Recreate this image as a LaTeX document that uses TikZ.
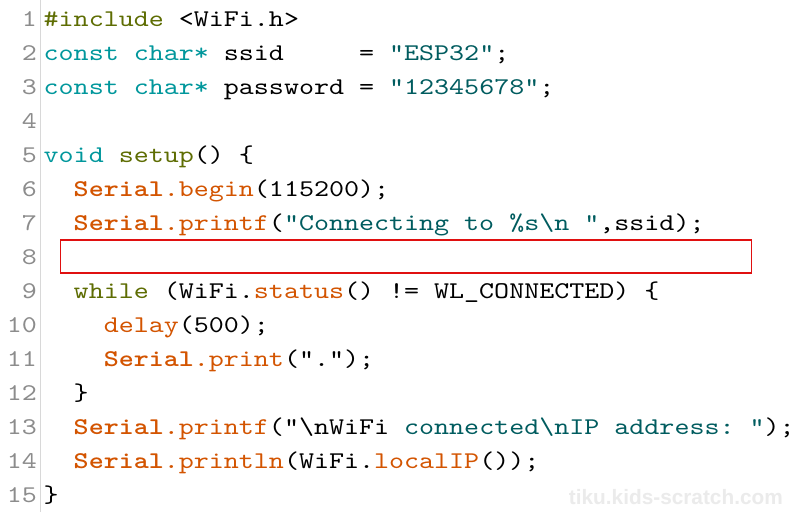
\documentclass[tikz,border=0pt]{standalone}
\usepackage{fontspec}
\newfontfamily\codefont{lmmono10-regular.otf}[BoldFont=lmmonolt10-bold.otf, FakeStretch=1.192]
\newfontfamily\wmfont{Liberation Sans}
\definecolor{cPre}{HTML}{5E6D03}
\definecolor{cType}{HTML}{00979C}
\definecolor{cFun}{HTML}{D35400}
\definecolor{cStr}{HTML}{005C5F}
\definecolor{cNum}{HTML}{8C8C8C}
\definecolor{cSep}{HTML}{D8D8D8}
\definecolor{cBox}{HTML}{E01010}
\definecolor{cWm}{HTML}{EBEBEB}
\newcommand\pre[1]{\textcolor{cPre}{#1}}
\newcommand\typ[1]{\textcolor{cType}{#1}}
\newcommand\fun[1]{\textcolor{cFun}{#1}}
\newcommand\str[1]{\textcolor{cStr}{#1}}
\newcommand\ser{\textcolor{cFun}{\textbf{Serial}.}}
\tikzset{
  codeline/.style={anchor=base west, inner sep=0pt, font=\codefont\fontsize{24}{34}\selectfont},
  numline/.style={anchor=base east, inner sep=0pt, text=cNum, font=\codefont\fontsize{24}{34}\selectfont},
  markbox/.style={draw=cBox, line width=1.4pt},
  watermark/.style={anchor=base east, inner sep=0pt, text=cWm, font=\wmfont\bfseries\fontsize{20.8}{24}\selectfont}
}
\begin{document}
\begin{tikzpicture}[x=1pt,y=1pt]
\useasboundingbox (0,0) rectangle (808,-512);
\fill[white] (0,0) rectangle (808,-512);
\draw[cSep, line width=1.2pt] (40.5,0) -- (40.5,-512);
% line numbers
\foreach \i in {1,...,15}{
  \node[numline] (n\i) at (37,{-26.7-34*(\i-1)}) {\i};
}
\def\xo{43.5}
\node[codeline] (l1) at (\xo,-26.7) {\pre{\#include}\ <WiFi.h>};
\node[codeline] (l2) at (\xo,-60.7) {\typ{const\ char*}\ ssid\ \ \ \ \ =\ \str{"ESP32"};};
\node[codeline] (l3) at (\xo,-94.7) {\typ{const\ char*}\ password\ =\ \str{"12345678"};};
\node[codeline] (l5) at (\xo,-162.7) {\typ{void}\ \pre{setup}()\ \{};
\node[codeline] (l6) at (\xo,-196.7) {\ \ \ser\fun{begin}(115200);};
\node[codeline] (l7) at (\xo,-230.7) {\ \ \ser\fun{printf}(\str{"Connecting\ to\ \%s\textbackslash n\ "},ssid);};
\node[codeline] (l9) at (\xo,-298.7) {\ \ \pre{while}\ (WiFi.\fun{status}()\ !=\ WL\_CONNECTED)\ \{};
\node[codeline] (l10) at (\xo,-332.7) {\ \ \ \ \fun{delay}(500);};
\node[codeline] (l11) at (\xo,-366.7) {\ \ \ \ \ser\fun{print}(".");};
\node[codeline] (l12) at (\xo,-400.7) {\ \ \}};
\node[codeline] (l13) at (\xo,-434.7) {\ \ \ser\fun{printf}("\textbackslash nWiFi\ \str{connected\textbackslash nIP\ address:\ "});};
\node[codeline] (l14) at (\xo,-468.7) {\ \ \ser\fun{println}(WiFi.\fun{localIP}());};
\node[codeline] (l15) at (\xo,-502.7) {\}};
% highlight box on line 8
\draw[markbox] (60.3,-240) rectangle (751.7,-273);
% watermark
\node[watermark] (wm) at (783,-504) {tiku.kids-scratch.com};
\end{tikzpicture}
\end{document}
